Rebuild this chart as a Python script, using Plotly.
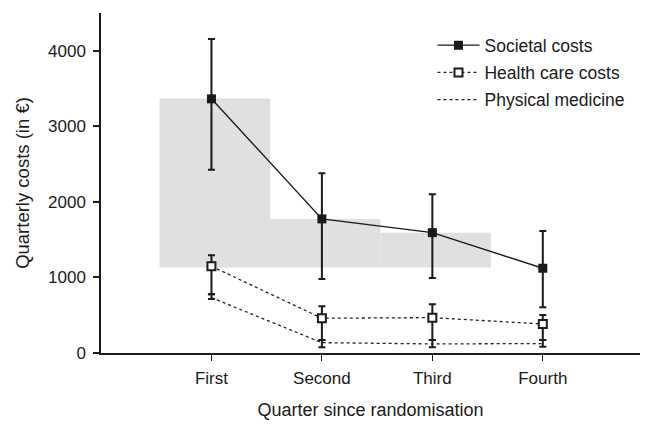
import plotly.graph_objects as go

quarters = ["First", "Second", "Third", "Fourth"]
positions = [1, 2, 3, 4]

societal = [3364, 1775, 1593, 1122]
societal_hi = [4155, 2380, 2102, 1616]
societal_lo = [2424, 980, 993, 605]

health = [1148, 460, 468, 384]
health_hi = [1294, 618, 645, 503]
health_lo = [777, 172, 172, 172]

physical = [732, 137, 120, 125]
physical_hi = [777, 172, 172, 172]
physical_lo = [715, 75, 75, 83]

box_pos = [1, 2, 3]
box_top = [3370, 1775, 1590]
box_base = 1130

y_ticks = [0, 1000, 2000, 3000, 4000]

FONT = "Liberation Sans, Arial, Helvetica, sans-serif"

def plus(hi, v):
    return [h - x for h, x in zip(hi, v)]

def minus(v, lo):
    return [x - l for x, l in zip(v, lo)]

fig = go.Figure()

fig.add_trace(go.Bar(
    x=box_pos, y=[t - box_base for t in box_top], base=box_base,
    width=1.0, offset=-0.47, marker=dict(color="#e0e0e0", line=dict(width=0)),
    showlegend=False, hoverinfo="skip"))

fig.add_trace(go.Scatter(
    x=positions, y=physical, mode="lines", name="Physical medicine",
    line=dict(color="#222222", width=1.3, dash="dot"),
    error_y=dict(type="data", symmetric=False, array=plus(physical_hi, physical),
                 arrayminus=minus(physical, physical_lo), color="#1a1a1a",
                 thickness=2, width=3.5),
    legendgroup="c", legendrank=3))

fig.add_trace(go.Scatter(
    x=positions, y=health, mode="lines+markers", name="Health care costs",
    line=dict(color="#222222", width=1.3, dash="dot"),
    marker=dict(symbol="square", size=8, color="white", line=dict(color="#1a1a1a", width=2)),
    error_y=dict(type="data", symmetric=False, array=plus(health_hi, health),
                 arrayminus=minus(health, health_lo), color="#1a1a1a",
                 thickness=2, width=3.5),
    legendgroup="b", legendrank=2))

fig.add_trace(go.Scatter(
    x=positions, y=societal, mode="lines+markers", name="Societal costs",
    line=dict(color="#1a1a1a", width=1.4),
    marker=dict(symbol="square", size=9, color="#1a1a1a"),
    error_y=dict(type="data", symmetric=False, array=plus(societal_hi, societal),
                 arrayminus=minus(societal, societal_lo), color="#1a1a1a",
                 thickness=2, width=3.5),
    legendgroup="a", legendrank=1))

fig.update_layout(
    width=656, height=424,
    margin=dict(l=101, r=16, t=13, b=71),
    paper_bgcolor="white", plot_bgcolor="white",
    font=dict(family=FONT, size=17, color="#1a1a1a"),
    barmode="overlay",
    showlegend=True,
    legend=dict(x=0.615, y=0.958, xanchor="left", yanchor="top",
                font=dict(size=17.5), bgcolor="rgba(0,0,0,0)",
                tracegroupgap=1.5, itemwidth=42),
    xaxis=dict(range=[0, 4.88], tickvals=positions, ticktext=quarters,
               showline=True, linecolor="#1a1a1a", linewidth=2,
               ticks="outside", ticklen=6, tickcolor="#1a1a1a", tickwidth=1,
               ticklabelstandoff=3, showgrid=False, zeroline=False, automargin=False,
               title=dict(text="Quarter since randomisation", standoff=16, font=dict(size=18))),
    yaxis=dict(range=[0, 4500], tickvals=y_ticks,
               showline=True, linecolor="#1a1a1a", linewidth=1.5,
               ticks="outside", ticklen=6, tickcolor="#1a1a1a", tickwidth=1.5,
               ticklabelstandoff=4, showgrid=False, zeroline=False, automargin=False,
               title=dict(text="Quarterly costs (in €)", standoff=14, font=dict(size=18.5))),
)

fig.write_html("out.html", config={"displayModeBar": False},
               post_script="document.body.style.margin='0';document.body.style.overflow='hidden';")
